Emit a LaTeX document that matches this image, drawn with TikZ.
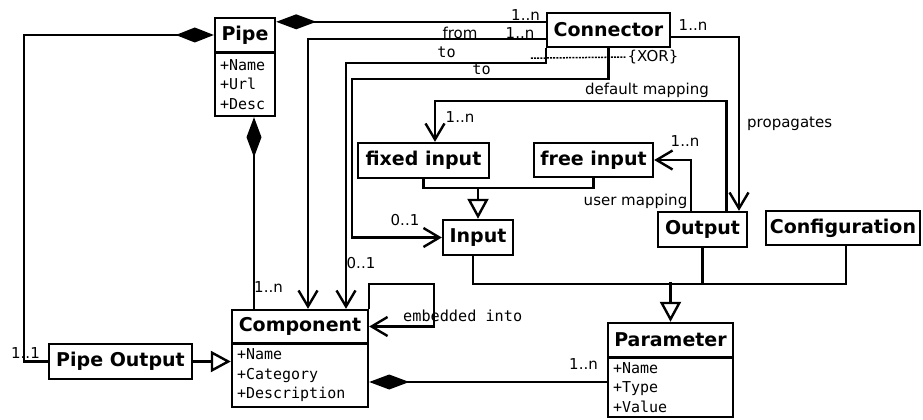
\documentclass[tikz,border=0pt]{standalone}
\usepackage{fontspec}
\setmainfont{DejaVu Sans}
\newfontfamily\monofam{DejaVu Sans Mono}
\usetikzlibrary{arrows.meta}

\tikzset{
  titlebox/.style={draw, line width=2.4pt, inner sep=0pt, fill=white,
    font=\fontsize{19}{20}\selectfont\bfseries},
  attrbox/.style={draw, line width=2.4pt, inner xsep=5pt, inner ysep=0pt, align=left,
    font=\monofam\fontsize{15}{19.5}\selectfont},
  lbl/.style={font=\fontsize{15}{16}\selectfont, inner sep=1pt},
  mlbl/.style={font=\monofam\fontsize{15.2}{16}\selectfont, inner sep=1pt},
  vee/.style={-{Straight Barb[length=16pt,width=19pt]}},
  tri/.style={-{Triangle[open,length=20pt,width=21pt,fill=white]}},
  diam/.style={{Diamond[length=40pt,width=15pt]}-},
  diamend/.style={-{Diamond[length=38pt,width=15pt]}},
  xordash/.style={line width=1.5pt, dash pattern=on 2pt off 1.2pt},
}

\begin{document}
\begin{tikzpicture}[x=1pt,y=-1pt,line width=2.4pt]
\useasboundingbox (0,0) rectangle (923,420);

% classes
\node[titlebox, minimum width=60pt, minimum height=34pt] (pipe) at (245,35) {Pipe};
\node[attrbox, minimum width=60pt, minimum height=63pt, text width=50pt] (pipeattr) at (245,84.5) {+Name\\+Url\\+Desc};

\node[titlebox, minimum width=123pt, minimum height=34pt] (connector) at (608.5,30) {Connector};

\node[titlebox, minimum width=131pt, minimum height=35pt] (fixedin) at (423.5,160.5) {fixed input};
\node[titlebox, minimum width=119pt, minimum height=34pt] (freein) at (593.5,160) {free input};
\node[titlebox, minimum width=70pt, minimum height=35pt] (input) at (478,237.5) {Input};
\node[titlebox, minimum width=89pt, minimum height=35pt] (output) at (702.5,229.5) {Output};
\node[titlebox, minimum width=154pt, minimum height=34pt] (config) at (843,228) {Configuration};

\node[titlebox, minimum width=143pt, minimum height=35pt] (pipeout) at (120.5,361.5) {Pipe Output};

\node[titlebox, minimum width=136pt, minimum height=33pt] (comp) at (300,326.5) {Component};
\node[attrbox, minimum width=136pt, minimum height=63pt, text width=126pt] (compattr) at (300,375.5) {+Name\\+Category\\+Description};

\node[titlebox, minimum width=125pt, minimum height=34pt] (param) at (670.5,340) {Parameter};
\node[attrbox, minimum width=125pt, minimum height=59pt, text width=115pt] (paramattr) at (670.5,387.5) {+Name\\+Type\\+Value};

% Pipe Output belongs to a Pipe
\draw[diamend] (pipeout.west) -- ([xshift=-24pt]pipeout.west) |- (pipe.west);
\node[lbl] at (25.5,353) {1..1};

% Pipe aggregates connectors
\draw[diam] ([yshift=-5pt]pipe.north east) -- ([yshift=-5pt]pipe.north east -| connector.west);
\node[lbl] at (525.5,15) {1..n};

% Connector: from
\draw[vee] ([yshift=-27pt]connector.north west) -| ([xshift=8pt]comp.north);
\node[lbl] at (460,33) {from};
\node[lbl] at (520,33) {1..n};

% Connector: to (component)
\draw[vee] (connector.south west) -- ([yshift=-15pt]connector.south west) -| ([xshift=46pt]comp.north);
\node[mlbl] at (446.5,52) {to};
\node[lbl] at (361,263) {0..1};

% Connector: to (input)
\draw[vee] (connector.south) -- ([yshift=-31pt]connector.south) -| ([xshift=-90pt]input.west) -- (input.west);
\node[mlbl] at (481.5,69) {to};
\node[lbl] at (405,220) {0..1};

% XOR constraint
\node[lbl] (xor) at (653,57) {\{XOR\}};
\draw[xordash] ([xshift=-15pt,yshift=-10pt]connector.south west) -- (xor.west);

% Connector propagates to Output
\draw[vee] ([yshift=-7pt]connector.east) -| ([xshift=36.5pt]output.north);
\node[lbl] at (693,25) {1..n};
\node[lbl, anchor=west] at (745,124) {propagates};

% default mapping
\draw[vee] ([xshift=24pt]output.north) -- ([xshift=24pt,yshift=110pt]output.north) -| ([xshift=11.5pt]fixedin.north);
\node[lbl] at (647,90) {default mapping};
\node[lbl] at (460,117) {1..n};

% user mapping
\draw[vee] ([xshift=-11.5pt]output.north) |- (freein.east);
\node[lbl] at (685,141) {1..n};
\node[lbl] at (635.5,201) {user mapping};

% fixed / free input are inputs
\draw (fixedin.south) |- ([yshift=31pt]input.north) -| (freein.south);
\draw[tri] ([yshift=31pt]input.north) -- (input.north);

% Input / Output / Configuration are parameters
\draw ([xshift=-5pt]input.south) -- ([xshift=-5pt,yshift=-28pt]input.south) -| ([xshift=3pt]config.south);
\draw (output.south) -- ([yshift=-36pt]output.south);
\draw[tri] ([yshift=40pt]param.north) -- (param.north);

% Pipe consists of components
\draw[diam] ([xshift=9pt]pipeattr.south) -- ([xshift=9pt]pipeattr.south |- comp.north);
\node[lbl] at (268.5,287) {1..n};

% embedded into
\draw[vee] (comp.north east) -- ([yshift=25pt]comp.north east) -| ([xshift=65pt]comp.east) -- (comp.east);
\node[mlbl, anchor=west] at (401,316) {embedded into};

% Pipe Output is a component
\draw[tri] (pipeout.east) -- (pipeout.east -| compattr.west);

% Component has parameters
\draw[diam] ([yshift=-6.5pt]compattr.east) -- ([yshift=-6.5pt]compattr.east -| paramattr.west);
\node[lbl] at (583.5,364) {1..n};
\end{tikzpicture}
\end{document}
